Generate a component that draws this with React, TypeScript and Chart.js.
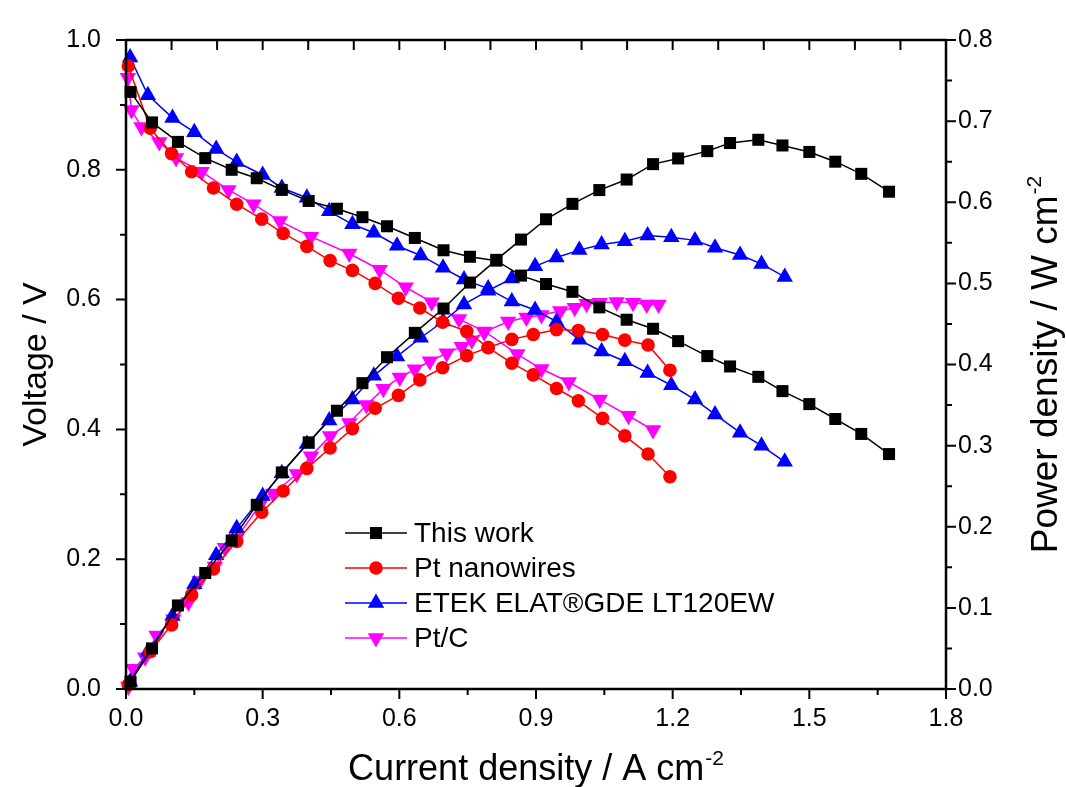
import React, { useEffect, useRef } from 'react';
import { Chart, registerables } from 'chart.js';

Chart.register(...registerables);

const FONT = "'Liberation Sans', Arial, Helvetica, sans-serif";

// ---------- axis ticks ----------
const X_TICKS = [0, 0.3, 0.6, 0.9, 1.2, 1.5, 1.8];
const Y_TICKS = [0, 0.2, 0.4, 0.6, 0.8, 1.0];
const Y2_TICKS = [0, 0.1, 0.2, 0.3, 0.4, 0.5, 0.6, 0.7, 0.8];

// ---------- This work ----------
const BLACK_X = [0.01, 0.057, 0.114, 0.174, 0.232, 0.287, 0.342, 0.401, 0.463, 0.519, 0.573, 0.634, 0.697, 0.755, 0.813, 0.867, 0.922, 0.98, 1.039, 1.099, 1.157, 1.212, 1.276, 1.326, 1.388, 1.441, 1.5, 1.557, 1.614, 1.675];
const BLACK_V = [0.92, 0.873, 0.843, 0.818, 0.8, 0.787, 0.769, 0.752, 0.74, 0.727, 0.713, 0.695, 0.676, 0.666, 0.66, 0.637, 0.624, 0.612, 0.588, 0.569, 0.555, 0.536, 0.513, 0.497, 0.481, 0.459, 0.439, 0.416, 0.393, 0.362];
const BLACK_P = [0.009, 0.05, 0.103, 0.143, 0.183, 0.227, 0.267, 0.304, 0.343, 0.377, 0.409, 0.439, 0.469, 0.501, 0.529, 0.554, 0.579, 0.598, 0.615, 0.628, 0.647, 0.654, 0.663, 0.673, 0.677, 0.67, 0.662, 0.65, 0.635, 0.613];

// ---------- Pt nanowires ----------
const RED_X = [0.005, 0.053, 0.1, 0.144, 0.192, 0.243, 0.298, 0.345, 0.397, 0.448, 0.497, 0.547, 0.598, 0.645, 0.695, 0.748, 0.795, 0.847, 0.894, 0.945, 0.993, 1.046, 1.095, 1.146, 1.194];
const RED_V = [0.96, 0.864, 0.825, 0.797, 0.772, 0.747, 0.724, 0.702, 0.682, 0.66, 0.645, 0.625, 0.602, 0.587, 0.565, 0.551, 0.526, 0.502, 0.484, 0.463, 0.444, 0.417, 0.39, 0.362, 0.327];
const RED_P = [0.005, 0.046, 0.079, 0.116, 0.148, 0.182, 0.218, 0.244, 0.272, 0.297, 0.321, 0.346, 0.362, 0.381, 0.396, 0.411, 0.421, 0.431, 0.437, 0.443, 0.442, 0.437, 0.43, 0.424, 0.393];

// ---------- ETEK ELAT®GDE LT120EW ----------
const BLUE_X = [0.009, 0.048, 0.102, 0.15, 0.198, 0.243, 0.3, 0.342, 0.397, 0.446, 0.497, 0.544, 0.595, 0.647, 0.696, 0.742, 0.795, 0.847, 0.898, 0.945, 0.995, 1.044, 1.095, 1.145, 1.197, 1.249, 1.293, 1.348, 1.395, 1.446];
const BLUE_V = [0.973, 0.915, 0.88, 0.858, 0.832, 0.812, 0.792, 0.772, 0.757, 0.736, 0.716, 0.703, 0.683, 0.668, 0.649, 0.631, 0.617, 0.597, 0.584, 0.566, 0.538, 0.52, 0.505, 0.487, 0.468, 0.446, 0.423, 0.395, 0.375, 0.35];
const BLUE_P = [0.009, 0.046, 0.09, 0.129, 0.165, 0.198, 0.238, 0.266, 0.302, 0.331, 0.357, 0.386, 0.41, 0.433, 0.453, 0.474, 0.491, 0.506, 0.521, 0.532, 0.541, 0.548, 0.552, 0.559, 0.557, 0.553, 0.544, 0.535, 0.524, 0.508];

// ---------- Pt/C ----------
const MAG_VX = [0.004, 0.012, 0.034, 0.073, 0.11, 0.166, 0.225, 0.28, 0.338, 0.406, 0.49, 0.557, 0.614, 0.671, 0.731, 0.787, 0.859, 0.912, 0.972, 1.04, 1.103, 1.157];
const MAG_V = [0.942, 0.892, 0.866, 0.843, 0.818, 0.797, 0.769, 0.747, 0.721, 0.697, 0.671, 0.646, 0.619, 0.596, 0.57, 0.551, 0.516, 0.493, 0.473, 0.446, 0.421, 0.399];
const MAG_PX = [0.005, 0.016, 0.042, 0.067, 0.104, 0.137, 0.162, 0.195, 0.217, 0.243, 0.294, 0.323, 0.375, 0.406, 0.448, 0.49, 0.528, 0.565, 0.601, 0.634, 0.667, 0.704, 0.737, 0.759, 0.786, 0.839, 0.879, 0.912, 0.953, 0.985, 1.011, 1.04, 1.077, 1.113, 1.143, 1.169];
const MAG_P = [0.003, 0.025, 0.039, 0.066, 0.086, 0.107, 0.133, 0.151, 0.174, 0.186, 0.227, 0.241, 0.265, 0.287, 0.312, 0.328, 0.35, 0.37, 0.384, 0.394, 0.404, 0.414, 0.422, 0.43, 0.44, 0.453, 0.458, 0.461, 0.466, 0.47, 0.475, 0.476, 0.477, 0.476, 0.474, 0.474];

const SERIES_NAMES = ['This work', 'Pt nanowires', 'ETEK ELAT®GDE LT120EW', 'Pt/C'];

type Style = { color: string; shape: 'rect' | 'circle' | 'triangle'; radius: number; rotation: number };
const STYLES: Style[] = [
  { color: '#000000', shape: 'rect', radius: 8.5, rotation: 0 },
  { color: '#ff0000', shape: 'circle', radius: 6.8, rotation: 0 },
  { color: '#0000ff', shape: 'triangle', radius: 9.5, rotation: 0 },
  { color: '#ff00ff', shape: 'triangle', radius: 9.5, rotation: 180 },
];

const SERIES_DATA = [
  { vx: BLACK_X, v: BLACK_V, px: BLACK_X, p: BLACK_P },
  { vx: RED_X, v: RED_V, px: RED_X, p: RED_P },
  { vx: BLUE_X, v: BLUE_V, px: BLUE_X, p: BLUE_P },
  { vx: MAG_VX, v: MAG_V, px: MAG_PX, p: MAG_P },
];

const toPts = (xs: number[], ys: number[]) => xs.map((x, i) => ({ x, y: ys[i] }));

function drawMarker(ctx: CanvasRenderingContext2D, s: Style, x: number, y: number) {
  ctx.fillStyle = s.color;
  ctx.beginPath();
  const r = s.radius;
  if (s.shape === 'rect') {
    const h = Math.SQRT1_2 * r;
    ctx.rect(x - h, y - h, 2 * h, 2 * h);
  } else if (s.shape === 'circle') {
    ctx.arc(x, y, r, 0, Math.PI * 2);
  } else {
    let rad = (s.rotation * Math.PI) / 180;
    ctx.moveTo(x + Math.sin(rad) * r, y - Math.cos(rad) * r);
    rad += (2 * Math.PI) / 3;
    ctx.lineTo(x + Math.sin(rad) * r, y - Math.cos(rad) * r);
    rad += (2 * Math.PI) / 3;
    ctx.lineTo(x + Math.sin(rad) * r, y - Math.cos(rad) * r);
    ctx.closePath();
  }
  ctx.fill();
}

function drawTitleWithSup(ctx: CanvasRenderingContext2D, main: string, sup: string, size: number, supSize: number) {
  // draws centred at origin, baseline at y=0
  ctx.font = `${size}px ${FONT}`;
  const w1 = ctx.measureText(main).width;
  ctx.font = `${supSize}px ${FONT}`;
  const w2 = sup ? ctx.measureText(sup).width + 1 : 0;
  const total = w1 + w2;
  ctx.textAlign = 'left';
  ctx.textBaseline = 'alphabetic';
  ctx.font = `${size}px ${FONT}`;
  ctx.fillText(main, -total / 2, 0);
  if (sup) {
    ctx.font = `${supSize}px ${FONT}`;
    ctx.fillText(sup, -total / 2 + w1 + 1, -size * 0.42);
  }
}

const decorPlugin = {
  id: 'decor',
  afterDraw(chart: any) {
    const { ctx, chartArea: a, scales } = chart;
    const xs = scales.x, ys = scales.y, y2 = scales.y2;
    ctx.save();
    ctx.strokeStyle = '#000';
    ctx.lineCap = 'butt';
    const MAJ = 10, MIN = 6;
    ctx.lineWidth = 2;
    ctx.beginPath();
    // bottom ticks (outward)
    for (let i = 0; i <= 12; i++) {
      const px = xs.getPixelForValue(i * 0.15);
      const len = i % 2 === 0 ? MAJ : MIN;
      ctx.moveTo(px, a.bottom);
      ctx.lineTo(px, a.bottom + len);
    }
    // top ticks (inward)
    for (let i = 1; i < 18; i++) {
      const px = xs.getPixelForValue(i * 0.1);
      ctx.moveTo(px, a.top);
      ctx.lineTo(px, a.top + MAJ);
    }
    // left ticks (outward)
    for (let i = 0; i <= 10; i++) {
      const py = ys.getPixelForValue(i * 0.1);
      const len = i % 2 === 0 ? MAJ : MIN;
      ctx.moveTo(a.left, py);
      ctx.lineTo(a.left - len, py);
    }
    // right ticks (outward)
    for (let i = 0; i <= 16; i++) {
      const py = y2.getPixelForValue(i * 0.05);
      const len = i % 2 === 0 ? MAJ : MIN;
      ctx.moveTo(a.right, py);
      ctx.lineTo(a.right + len, py);
    }
    ctx.stroke();
    // frame
    ctx.lineWidth = 2.5;
    ctx.strokeRect(a.left, a.top, a.right - a.left, a.bottom - a.top);

    // titles
    ctx.fillStyle = '#000';
    ctx.save();
    ctx.translate((a.left + a.right) / 2, 780);
    drawTitleWithSup(ctx, 'Current density / A cm', '-2', 36, 21);
    ctx.restore();

    ctx.save();
    ctx.translate(46, (a.top + a.bottom) / 2);
    ctx.rotate(-Math.PI / 2);
    drawTitleWithSup(ctx, 'Voltage / V', '', 34, 20);
    ctx.restore();

    ctx.save();
    ctx.translate(1057, (a.top + a.bottom) / 2);
    ctx.rotate(-Math.PI / 2);
    drawTitleWithSup(ctx, 'Power density / W cm', '-2', 37, 21);
    ctx.restore();

    // legend
    const rows = [533, 568, 603, 638];
    ctx.font = `28px ${FONT}`;
    ctx.textAlign = 'left';
    ctx.textBaseline = 'middle';
    SERIES_NAMES.forEach((name, i) => {
      const s = STYLES[i];
      const y = rows[i];
      ctx.strokeStyle = s.color;
      ctx.lineWidth = 1.5;
      ctx.beginPath();
      ctx.moveTo(345, y);
      ctx.lineTo(407, y);
      ctx.stroke();
      drawMarker(ctx, s, 376, y);
      ctx.fillStyle = '#000';
      ctx.fillText(name, 414, y + 1);
    });
    ctx.restore();
  },
};

export default function App() {
  const ref = useRef<HTMLCanvasElement | null>(null);
  useEffect(() => {
    if (!ref.current) return;
    const datasets: any[] = [];
    SERIES_DATA.forEach((d, i) => {
      const s = STYLES[i];
      const common = {
        borderColor: s.color,
        backgroundColor: s.color,
        borderWidth: 1.5,
        pointStyle: s.shape,
        pointRadius: s.radius,
        pointRotation: s.rotation,
        pointBorderWidth: 0,
        pointHoverRadius: s.radius,
        showLine: true,
        fill: false,
        tension: 0,
        clip: false,
      };
      datasets.push({ ...common, label: SERIES_NAMES[i] + ' (V)', data: toPts(d.vx, d.v), yAxisID: 'y' });
      datasets.push({ ...common, label: SERIES_NAMES[i] + ' (P)', data: toPts(d.px, d.p), yAxisID: 'y2' });
    });
    const tickFont = { family: FONT, size: 25 };
    const chart = new Chart(ref.current, {
      type: 'scatter',
      data: { datasets },
      options: {
        animation: false,
        responsive: false,
        layout: { padding: { top: 34, left: 0, right: 0, bottom: 0 } },
        plugins: { legend: { display: false }, tooltip: { enabled: false } },
        scales: {
          x: {
            type: 'linear',
            position: 'bottom',
            min: 0,
            max: 1.8,
            grid: { display: false, drawTicks: false },
            border: { display: false },
            afterBuildTicks: (s: any) => { s.ticks = X_TICKS.map((v) => ({ value: v })); },
            ticks: { callback: (v: any) => Number(v).toFixed(1), font: tickFont, color: '#000', padding: 15, maxRotation: 0, autoSkip: false },
            afterFit: (s: any) => { s.height = 98; },
          },
          y: {
            type: 'linear',
            position: 'left',
            min: 0,
            max: 1.0,
            grid: { display: false, drawTicks: false },
            border: { display: false },
            afterBuildTicks: (s: any) => { s.ticks = Y_TICKS.map((v) => ({ value: v })); },
            ticks: { callback: (v: any) => Number(v).toFixed(1), font: tickFont, color: '#000', padding: 25, autoSkip: false },
            afterFit: (s: any) => { s.width = 126; },
          },
          y2: {
            type: 'linear',
            position: 'right',
            min: 0,
            max: 0.8,
            grid: { display: false, drawTicks: false },
            border: { display: false },
            afterBuildTicks: (s: any) => { s.ticks = Y2_TICKS.map((v) => ({ value: v })); },
            ticks: { callback: (v: any) => Number(v).toFixed(1), font: tickFont, color: '#000', padding: 12, autoSkip: false },
            afterFit: (s: any) => { s.width = 120; },
          },
        },
      } as any,
      plugins: [decorPlugin],
    });
    return () => chart.destroy();
  }, []);
  return (
    <div style={{ position: 'absolute', left: 0, top: 0, width: 1066, height: 787, background: '#fff' }}>
      <canvas ref={ref} width={1066} height={787} style={{ width: 1066, height: 787, display: 'block' }} />
    </div>
  );
}
